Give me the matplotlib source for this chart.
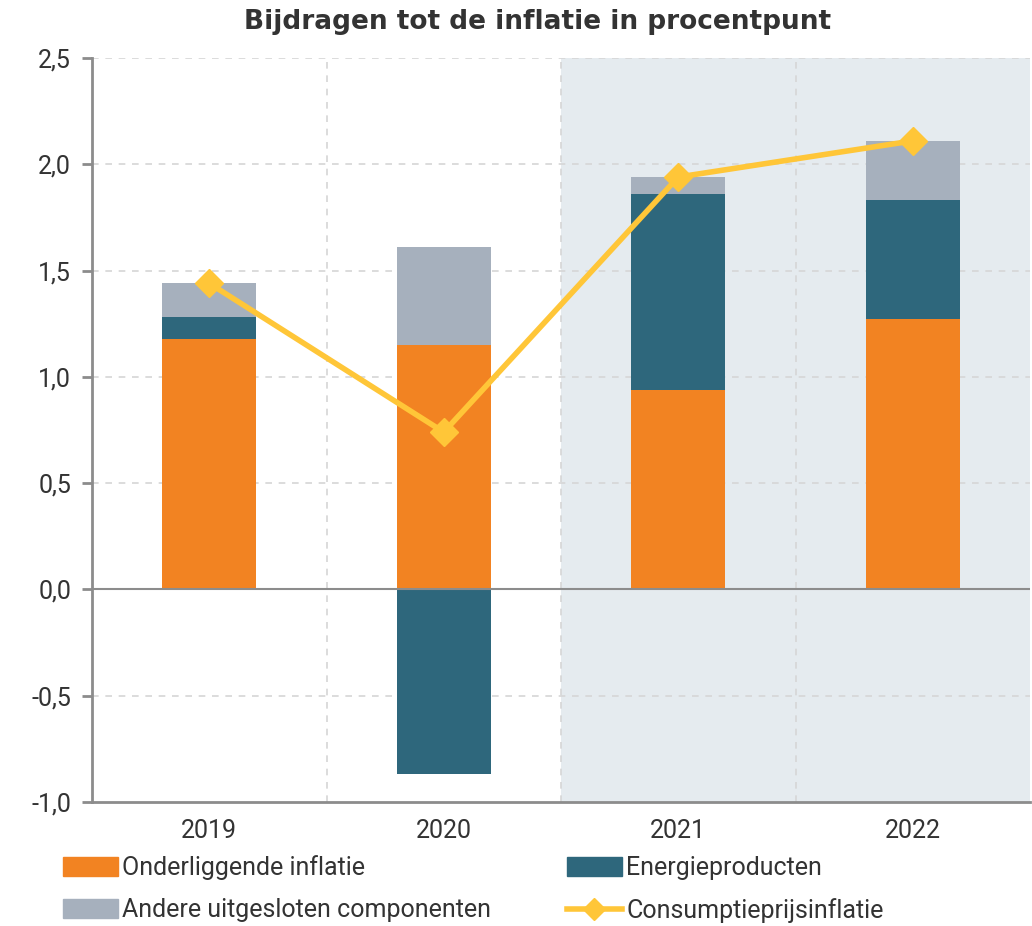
import numpy as np
import matplotlib.pyplot as plt
from matplotlib.patches import Patch
from matplotlib.lines import Line2D

# ========================================
# DATA
# ========================================
years = ['2019', '2020', '2021', '2022']
onderliggend = [1.18, 1.15, 0.94, 1.27]
energie = [0.10, -0.87, 0.92, 0.56]
andere = [0.16, 0.46, 0.08, 0.28]
cpi = [1.44, 0.74, 1.94, 2.11]
yticks = [-1.0, -0.5, 0.0, 0.5, 1.0, 1.5, 2.0, 2.5]

c_orange = '#F28322'
c_teal = '#2E677C'
c_grey = '#A6B0BD'
c_yellow = '#FFC638'
c_text = '#333333'

plt.rcParams['font.family'] = ['Roboto', 'DejaVu Sans']

fig = plt.figure(figsize=(10.32, 9.26), dpi=100)
ax = fig.add_axes([92 / 1032, 1 - 802 / 926, 938 / 1032, 744 / 926])

x = np.arange(len(years))
w = 0.4

# shaded forecast area
ax.axvspan(1.5, 3.5, color='#E5EBEF', zorder=0, lw=0)

# stacked bars: positives stack upward, negatives downward
pos_base = np.zeros(len(years))
neg_base = np.zeros(len(years))
for vals, col in [(onderliggend, c_orange), (energie, c_teal), (andere, c_grey)]:
    vals = np.array(vals)
    base = np.where(vals >= 0, pos_base, neg_base)
    ax.bar(x, vals, w, bottom=base, color=col, zorder=3, lw=0)
    pos_base += np.where(vals >= 0, vals, 0)
    neg_base += np.where(vals < 0, vals, 0)

ax.plot(x, cpi, color=c_yellow, lw=4, marker='D', ms=14, zorder=5)

ax.axhline(0, color='#8C8C8C', lw=1.5, zorder=4)

ax.set_xlim(-0.5, 3.5)
ax.set_ylim(-1.0, 2.5)
ax.set_yticks(yticks)
ax.set_yticklabels([f'{v:.1f}'.replace('.', ',') for v in yticks], fontsize=18, color=c_text)
ax.set_xticks(x)
ax.set_xticklabels(years, fontsize=18, color=c_text)
ax.tick_params(axis='x', length=0, pad=12)
ax.tick_params(axis='y', length=7, width=2, color='#8C8C8C', pad=8)

for v in yticks[1:]:
    ax.axhline(v, color='#D6D6D6', lw=1.2, ls=(0, (4, 4)), zorder=1)
for v in [0.5, 1.5, 2.5]:
    ax.axvline(v, color='#D6D6D6', lw=1.2, ls=(0, (4, 4)), zorder=1)

for s in ['top', 'right']:
    ax.spines[s].set_visible(False)
for s in ['left', 'bottom']:
    ax.spines[s].set_color('#8C8C8C')
    ax.spines[s].set_linewidth(2)

ax.set_title('Bijdragen tot de inflatie in procentpunt', fontsize=19, fontweight='bold',
             color=c_text, pad=21, x=0.475, family=['DejaVu Sans'])

handles = [
    Patch(color=c_orange, label='Onderliggende inflatie'),
    Patch(color=c_grey, label='Andere uitgesloten componenten'),
    Patch(color=c_teal, label='Energieproducten'),
    Line2D([], [], color=c_yellow, lw=4, marker='D', ms=11, label='Consumptieprijsinflatie'),
]
fig.legend(handles=handles, ncol=2, loc='upper left', bbox_to_anchor=(40 / 1032, 1 - 833 / 926),
           frameon=False, fontsize=18, handlelength=2.2, handleheight=0.8, handletextpad=0.2,
           columnspacing=3.0, labelspacing=0.72, labelcolor=c_text)

plt.savefig('out.png', dpi=100)
